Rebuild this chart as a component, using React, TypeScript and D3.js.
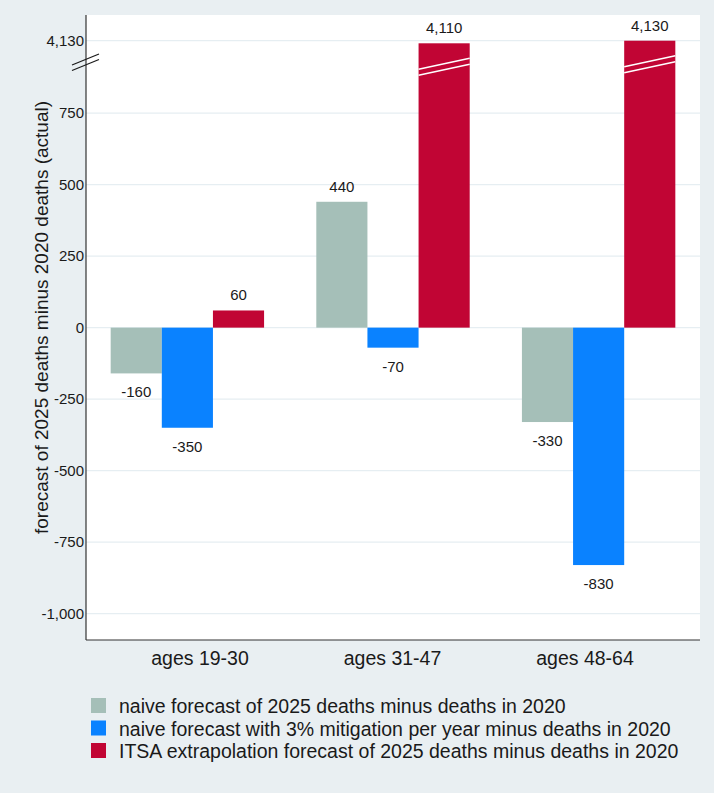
import React from 'react';
import * as d3 from 'd3';

const groups = ['ages 19-30', 'ages 31-47', 'ages 48-64'];
const seriesNames = [
  'naive forecast of 2025 deaths minus deaths in 2020',
  'naive forecast with 3% mitigation per year minus deaths in 2020',
  'ITSA extrapolation forecast of 2025 deaths minus deaths in 2020',
];
const naive = [-160, 440, -330];
const mitigated = [-350, -70, -830];
const itsa = [60, 4110, 4130];
const tickValues = [-1000, -750, -500, -250, 0, 250, 500, 750, 4130];
const colors = ['#a5bfb8', '#0a82ff', '#c10534'];

const fmt = d3.formatLocale({ decimal: '.', thousands: ',', grouping: [3], currency: ['$', ''], minus: '-' }).format(',');

export default function App() {
  const width = 714;
  const height = 793;
  const left = 86;
  const right = 700;
  const top = 15;
  const bottom = 640;
  const font = 'Liberation Sans, Arial, sans-serif';

  const series = [naive, mitigated, itsa];

  // broken axis: lower segment linear, top segment compressed
  const y = d3.scaleLinear()
    .domain([-1092, 900, 4000, 4330])
    .range([bottom, 70.2, 57.6, 14.7]);

  const x0 = d3.scaleBand().domain(groups).range([left, right]).paddingInner(0.254).paddingOuter(0.12);
  const x1 = d3.scaleBand().domain(['0', '1', '2']).range([0, x0.bandwidth()]);
  const xLab = d3.scalePoint().domain(groups).range([200, 585]);

  const translate = (a: number, b: number) => `translate(${a},${b})`;

  return (
    <svg width={width} height={height} style={{ display: 'block', position: 'absolute', left: 0, top: 0 }}>
      <rect width={width} height={height} fill="#e9eff2" />
      <rect x={left} y={top} width={right - left} height={bottom - top} fill="#ffffff" />
      {tickValues.map((t) => (
        <g key={t}>
          <line x1={left} x2={right} y1={y(t)} y2={y(t)} stroke="#e6eef2" strokeWidth={1.2} />
          <text x={left - 2} y={y(t)} dy="0.35em" textAnchor="end" fontFamily={font} fontSize={15} fill="#1a1a1a">
            {fmt(t)}
          </text>
        </g>
      ))}
      {groups.map((g, gi) => (
        <g key={g} transform={translate(x0(g) as number, 0)}>
          {series.map((s, si) => {
            const v = s[gi];
            const bx = x1(String(si)) as number;
            const bw = x1.bandwidth();
            const y0 = y(0);
            const yv = y(v);
            const ly = v >= 0 ? yv - 10 : yv + 24;
            return (
              <g key={si}>
                <rect x={bx} y={Math.min(y0, yv)} width={bw} height={Math.abs(yv - y0)} fill={colors[si]} />
                {v > 1000 && (
                  <g stroke="#ffffff" strokeWidth={1.5}>
                    <line x1={bx} x2={bx + bw} y1={yv + 26} y2={yv + 15} />
                    <line x1={bx} x2={bx + bw} y1={yv + 32} y2={yv + 21} />
                  </g>
                )}
                <text x={bx + bw / 2} y={ly} textAnchor="middle" fontFamily={font} fontSize={15} fill="#1a1a1a">
                  {fmt(v)}
                </text>
              </g>
            );
          })}
        </g>
      ))}
      {groups.map((g) => (
        <text key={g} x={xLab(g)} y={665} textAnchor="middle" fontFamily={font} fontSize={19.5} fill="#1a1a1a">
          {g}
        </text>
      ))}
      <line x1={left} x2={left} y1={top} y2={bottom} stroke="#333333" strokeWidth={1.2} />
      <line x1={left} x2={right} y1={bottom} y2={bottom} stroke="#333333" strokeWidth={1.2} />
      <g stroke="#1a1a1a" strokeWidth={1.2}>
        <line x1={72} x2={99} y1={65} y2={54} />
        <line x1={72} x2={99} y1={70.5} y2={59.5} />
      </g>
      <text transform={`translate(48,317.5) rotate(-90)`} textAnchor="middle" fontFamily={font} fontSize={19} fill="#1a1a1a">
        forecast of 2025 deaths minus 2020 deaths (actual)
      </text>
      {seriesNames.map((n, i) => (
        <g key={n} transform={translate(91, 698 + i * 22.5)}>
          <rect width={15} height={15} fill={colors[i]} />
          <text x={28} y={15} fontFamily={font} fontSize={19.5} fill="#1a1a1a">{n}</text>
        </g>
      ))}
    </svg>
  );
}
